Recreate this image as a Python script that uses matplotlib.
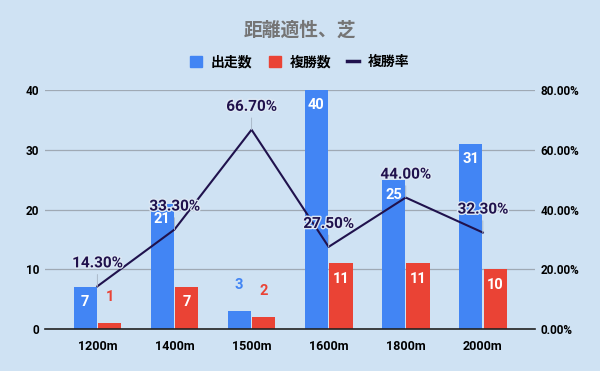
import matplotlib
matplotlib.use('Agg')
import matplotlib.pyplot as plt
import matplotlib.patheffects as pe
from matplotlib.patches import Patch
from matplotlib.lines import Line2D
import numpy as np

plt.rcParams['font.family'] = ['Roboto', 'Noto Sans CJK JP', 'DejaVu Sans']

# データ
categories = ['1200m', '1400m', '1500m', '1600m', '1800m', '2000m']
starts = [7, 21, 3, 40, 25, 31]          # 出走数
places = [1, 7, 2, 11, 11, 10]           # 複勝数
place_rate = [14.3, 33.3, 66.7, 27.5, 44.0, 32.3]  # 複勝率 (%)

bg = '#cfe2f3'
blue = '#4285f4'
red = '#ea4335'
navy = '#20124d'

fig = plt.figure(figsize=(6, 3.71), dpi=100, facecolor=bg)
ax = fig.add_axes([0.075, 0.1132, 0.817, 0.6442])
ax.set_facecolor(bg)

x = np.arange(len(categories))
w = 0.3
ax.bar(x - 0.16, starts, w, color=blue, zorder=2)
ax.bar(x + 0.16, places, w, color=red, zorder=2)

ax.set_xlim(-0.68, 5.68)
ax.set_ylim(0, 40)
ax.set_yticks([0, 10, 20, 30, 40])
ax.set_xticks(x)
ax.set_xticklabels(categories, fontsize=9, fontweight='bold')
for lab in ax.get_yticklabels():
    lab.set_fontsize(8.5)
    lab.set_fontweight('bold')
ax.tick_params(axis='y', length=0, pad=4)
ax.tick_params(axis='x', length=0, pad=8)
ax.yaxis.grid(True, color='#9fa9b4', lw=0.9)
ax.set_axisbelow(True)
for s in ['top', 'left', 'right']:
    ax.spines[s].set_visible(False)
ax.spines['bottom'].set_color('#222222')
ax.spines['bottom'].set_linewidth(1.2)
ax.spines['bottom'].set_zorder(3)

# 棒のラベル
def bar_labels(xs, vals, color):
    for xi, v in zip(xs, vals):
        if v >= 5:
            ax.annotate(str(v), (xi, v), xytext=(0, -11), textcoords='offset points',
                        ha='center', va='center', color='white', fontsize=10.5,
                        fontweight='bold', zorder=4)
        else:
            ax.annotate(str(v), (xi, v), xytext=(0, 18.5), textcoords='offset points',
                        ha='center', va='center', color=color, fontsize=10.5,
                        fontweight='bold', zorder=4)

bar_labels(x - 0.16, starts, blue)
bar_labels(x + 0.16, places, red)

# 複勝率
ax2 = ax.twinx()
ax2.set_ylim(0, 80)
ax2.set_yticks([0, 20, 40, 60, 80])
ax2.set_yticklabels([f'{v:.2f}%' for v in [0, 20, 40, 60, 80]],
                    fontsize=8.5, fontweight='bold')
ax2.tick_params(axis='y', length=0, pad=4)
for s in ax2.spines.values():
    s.set_visible(False)
ax2.plot(x, place_rate, color=navy, lw=1.5, zorder=3)

for xi, r in zip(x, place_rate):
    t = ax2.annotate(f'{r:.2f}%', (xi, r), xytext=(0, 16.5), textcoords='offset points',
                     ha='center', va='center', color=navy, fontsize=11, fontweight='bold',
                     arrowprops=dict(arrowstyle='-', color='#aab8c8', lw=0.7,
                                     shrinkA=1, shrinkB=0),
                     zorder=5)
    t.set_path_effects([pe.withStroke(linewidth=2, foreground='#dde8f3')])

# タイトル・凡例
fig.text(0.5, 1 - 31 / 371, '距離適性、芝', ha='center', va='center',
         fontsize=13.5, fontweight='bold', color='#757575')

handles = [Patch(color=blue, label='出走数'),
           Patch(color=red, label='複勝数'),
           Line2D([0], [0], color=navy, lw=2.5, label='複勝率')]
fig.legend(handles=handles, loc='center', bbox_to_anchor=(0.5, 1 - 62 / 371), ncol=3,
           frameon=False, fontsize=10, handlelength=0.86, handleheight=0.86,
           handletextpad=0.65, columnspacing=1.15,
           prop={'size': 10, 'weight': 'bold'})

fig.savefig('out.png', dpi=100, facecolor=bg)
